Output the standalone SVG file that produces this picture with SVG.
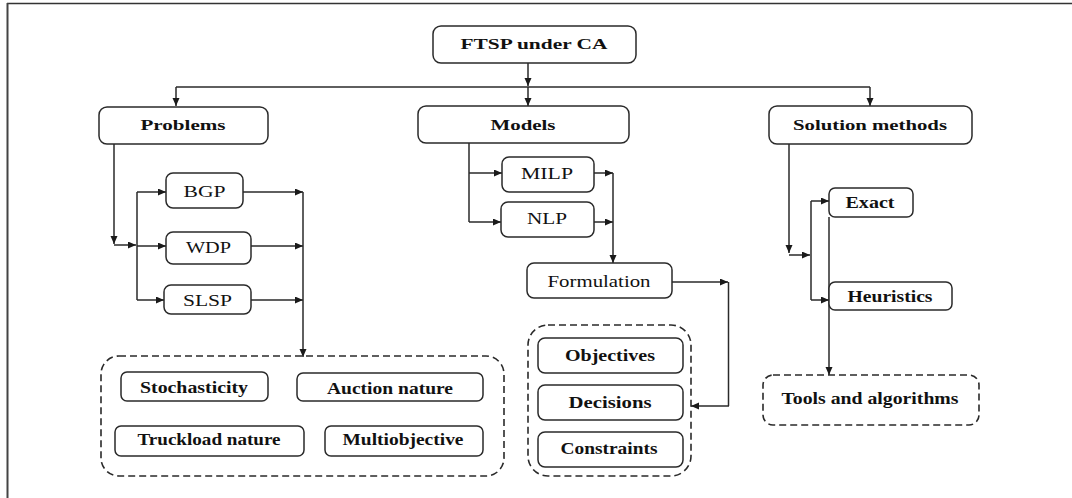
<svg xmlns="http://www.w3.org/2000/svg" width="1072" height="498" viewBox="0 0 1072 498">
<style>
.box{fill:#fff;stroke:#2a2a2a;stroke-width:1.5}
.dbox{fill:none;stroke:#2a2a2a;stroke-width:1.6;stroke-dasharray:7 4}
.ln{fill:none;stroke:#2a2a2a;stroke-width:1.5}
.t1{font-family:"Liberation Serif","Times New Roman",serif;font-size:14px;font-weight:bold;fill:#111;text-anchor:middle}
.t2{font-family:"Liberation Serif","Times New Roman",serif;font-size:16px;font-weight:bold;fill:#111;text-anchor:middle}
.t3{font-family:"Liberation Serif","Times New Roman",serif;font-size:16px;font-weight:normal;fill:#111;text-anchor:middle}
</style>
<defs>
<marker id="ah" markerUnits="userSpaceOnUse" markerWidth="9" markerHeight="8" refX="8" refY="3.5" orient="auto">
<path d="M0,0 L8,3.5 L0,7 z" fill="#1a1a1a"/>
</marker>
</defs>
<rect width="1072" height="498" fill="#fff"/>
<g id="frame">
<line x1="7" y1="3.5" x2="1072" y2="3.5" stroke="#333" stroke-width="1.5"/>
<line x1="7.5" y1="3" x2="7.5" y2="498" stroke="#444" stroke-width="2"/>
</g>
<g id="connectors">
<line class="ln" x1="528" y1="63" x2="528" y2="86" marker-end="url(#ah)"/>
<line class="ln" x1="176" y1="87" x2="870" y2="87"/>
<line class="ln" x1="176" y1="87" x2="176" y2="106" marker-end="url(#ah)"/>
<line class="ln" x1="528" y1="87" x2="528" y2="106" marker-end="url(#ah)"/>
<line class="ln" x1="870" y1="87" x2="870" y2="106" marker-end="url(#ah)"/>
<line class="ln" x1="114" y1="144" x2="114" y2="244" marker-end="url(#ah)"/>
<line class="ln" x1="114" y1="245" x2="136" y2="245" marker-end="url(#ah)"/>
<line class="ln" x1="137" y1="192" x2="137" y2="300"/>
<line class="ln" x1="137" y1="192" x2="166" y2="192" marker-end="url(#ah)"/>
<line class="ln" x1="137" y1="246" x2="166" y2="246" marker-end="url(#ah)"/>
<line class="ln" x1="137" y1="300" x2="164" y2="300" marker-end="url(#ah)"/>
<line class="ln" x1="243" y1="192" x2="303" y2="192" marker-end="url(#ah)"/>
<line class="ln" x1="251" y1="246" x2="303" y2="246" marker-end="url(#ah)"/>
<line class="ln" x1="251" y1="300" x2="303" y2="300" marker-end="url(#ah)"/>
<line class="ln" x1="303" y1="192" x2="303" y2="357" marker-end="url(#ah)"/>
<line class="ln" x1="469" y1="143" x2="469" y2="222"/>
<line class="ln" x1="469" y1="173" x2="502" y2="173" marker-end="url(#ah)"/>
<line class="ln" x1="469" y1="222" x2="501" y2="222" marker-end="url(#ah)"/>
<line class="ln" x1="594" y1="173" x2="613" y2="173" marker-end="url(#ah)"/>
<line class="ln" x1="594" y1="222" x2="613" y2="222" marker-end="url(#ah)"/>
<line class="ln" x1="613" y1="173" x2="613" y2="263" marker-end="url(#ah)"/>
<line class="ln" x1="672" y1="282" x2="728" y2="282" marker-end="url(#ah)"/>
<line class="ln" x1="728.5" y1="282" x2="728.5" y2="406"/>
<line class="ln" x1="729" y1="406" x2="691" y2="406" marker-end="url(#ah)"/>
<line class="ln" x1="789" y1="144" x2="789" y2="253" marker-end="url(#ah)"/>
<line class="ln" x1="789" y1="255" x2="810" y2="255" marker-end="url(#ah)"/>
<line class="ln" x1="811" y1="201" x2="811" y2="300"/>
<line class="ln" x1="811" y1="201" x2="829" y2="201" marker-end="url(#ah)"/>
<line class="ln" x1="811" y1="300" x2="829" y2="300" marker-end="url(#ah)"/>
<line class="ln" x1="829" y1="217" x2="829" y2="375" marker-end="url(#ah)"/>
</g>
<g id="ftsp"><rect class="box" x="433" y="26" width="203" height="37" rx="8"/><text class="t1" x="534" y="49" textLength="147" lengthAdjust="spacingAndGlyphs">FTSP under CA</text></g>
<g id="problems"><rect class="box" x="99" y="107" width="169" height="37" rx="8"/><text class="t1" x="183" y="130" textLength="85" lengthAdjust="spacingAndGlyphs">Problems</text></g>
<g id="models"><rect class="box" x="418" y="106" width="211" height="37" rx="8"/><text class="t1" x="523" y="130" textLength="65" lengthAdjust="spacingAndGlyphs">Models</text></g>
<g id="solution"><rect class="box" x="769" y="106" width="203" height="38" rx="8"/><text class="t1" x="870" y="130" textLength="154" lengthAdjust="spacingAndGlyphs">Solution methods</text></g>
<g id="bgp"><rect class="box" x="166" y="173" width="77" height="35" rx="7"/><text class="t3" x="204.5" y="197" textLength="42" lengthAdjust="spacingAndGlyphs">BGP</text></g>
<g id="wdp"><rect class="box" x="166" y="232" width="85" height="32" rx="7"/><text class="t3" x="208.5" y="253" textLength="45" lengthAdjust="spacingAndGlyphs">WDP</text></g>
<g id="slsp"><rect class="box" x="164" y="285" width="87" height="29" rx="7"/><text class="t3" x="207.5" y="306" textLength="49" lengthAdjust="spacingAndGlyphs">SLSP</text></g>
<g id="milp"><rect class="box" x="502" y="157" width="92" height="35" rx="7"/><text class="t3" x="547" y="179" textLength="52" lengthAdjust="spacingAndGlyphs">MILP</text></g>
<g id="nlp"><rect class="box" x="501" y="202" width="93" height="35" rx="7"/><text class="t3" x="547" y="224" textLength="40" lengthAdjust="spacingAndGlyphs">NLP</text></g>
<g id="formulation"><rect class="box" x="527" y="263" width="145" height="35" rx="7"/><text class="t3" x="599" y="287" textLength="103" lengthAdjust="spacingAndGlyphs">Formulation</text></g>
<g id="exact"><rect class="box" x="829" y="188" width="84" height="29" rx="6"/><text class="t2" x="870" y="208" textLength="49" lengthAdjust="spacingAndGlyphs">Exact</text></g>
<g id="heuristics"><rect class="box" x="829" y="282" width="123" height="28" rx="6"/><text class="t2" x="890" y="302" textLength="85" lengthAdjust="spacingAndGlyphs">Heuristics</text></g>
<g id="problem-features">
<rect class="dbox" x="101" y="356" width="403" height="120" rx="18"/>
<rect class="box" x="121" y="372" width="147" height="29" rx="6"/><text class="t2" x="194" y="393" textLength="108" lengthAdjust="spacingAndGlyphs">Stochasticity</text>
<rect class="box" x="297" y="373" width="186" height="28" rx="6"/><text class="t2" x="390" y="394" textLength="126" lengthAdjust="spacingAndGlyphs">Auction nature</text>
<rect class="box" x="115" y="426" width="189" height="30" rx="6"/><text class="t2" x="209" y="445" textLength="143" lengthAdjust="spacingAndGlyphs">Truckload nature</text>
<rect class="box" x="325" y="426" width="158" height="30" rx="6"/><text class="t2" x="403" y="445" textLength="121" lengthAdjust="spacingAndGlyphs">Multiobjective</text>
</g>
<g id="formulation-parts">
<rect class="dbox" x="528" y="325" width="163" height="151" rx="20"/>
<rect class="box" x="538" y="338" width="145" height="35" rx="7"/><text class="t2" x="610" y="361" textLength="90" lengthAdjust="spacingAndGlyphs">Objectives</text>
<rect class="box" x="538" y="385" width="145" height="35" rx="7"/><text class="t2" x="610" y="408" textLength="83" lengthAdjust="spacingAndGlyphs">Decisions</text>
<rect class="box" x="538" y="432" width="145" height="35" rx="7"/><text class="t2" x="609" y="454" textLength="97" lengthAdjust="spacingAndGlyphs">Constraints</text>
</g>
<g id="tools"><rect class="dbox" x="763" y="375" width="216" height="50" rx="10"/><text class="t2" x="870" y="404" textLength="177" lengthAdjust="spacingAndGlyphs">Tools and algorithms</text></g>
</svg>
